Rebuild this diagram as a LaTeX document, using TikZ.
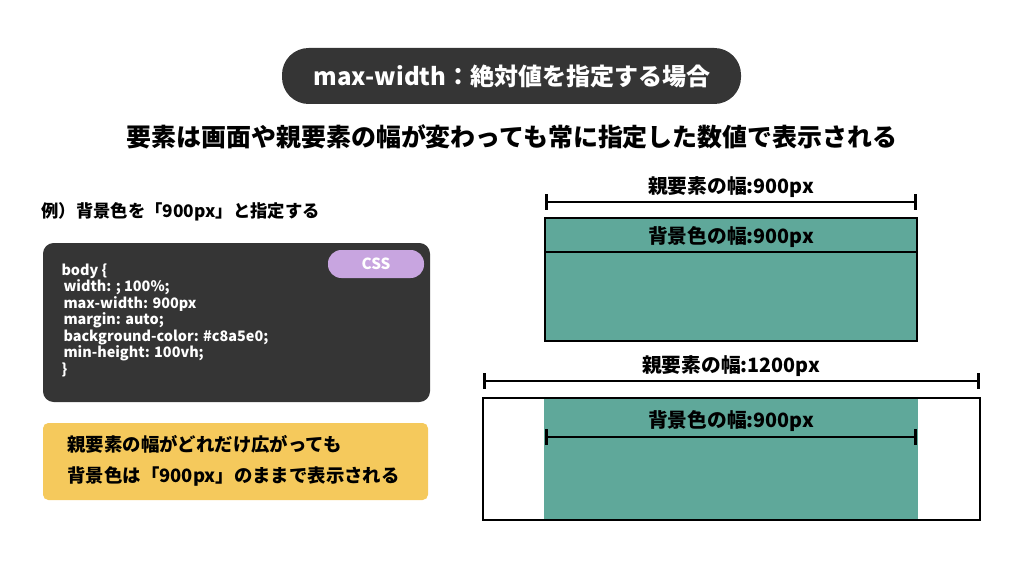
\documentclass[tikz,border=0pt]{standalone}
\usepackage{fontspec}
\setmainfont{Noto Sans CJK JP}
\definecolor{darkbg}{HTML}{353535}
\definecolor{cssviolet}{HTML}{C8A5E0}
\definecolor{noteyellow}{HTML}{F5C95C}
\definecolor{teal}{HTML}{5FA89A}
\tikzset{every picture/.style={line width=0.75pt}}
\tikzset{
  dimline/.style={line width=2pt, |-|},
  lbl/.style={inner sep=0.75pt, font=\bfseries\fontsize{14.8}{17}\selectfont},
  codeline/.style={anchor=west, inner sep=0.75pt, text=white, font=\bfseries\fontsize{10.8}{12}\selectfont}
}
\begin{document}
\begin{tikzpicture}[x=0.75pt,y=0.75pt,yscale=-1,xscale=1]
\useasboundingbox (0,0) rectangle (1024,574);

%Title pill
\fill[darkbg, rounded corners=20pt] (282,48) rectangle (741,104);
\draw (512,76) node [inner sep=0.75pt, text=white, font=\bfseries\fontsize{18}{21}\selectfont] (title) {max-width：絶対値を指定する場合};
% Subtitle
\draw (512,137) node [inner sep=0.75pt, font=\bfseries\fontsize{18.7}{21}\selectfont] (sub) {要素は画面や親要素の幅が変わっても常に指定した数値で表示される};
% Example label
\draw (40,212) node [anchor=west, inner sep=0.75pt, font=\bfseries\fontsize{13}{15}\selectfont] (ex) {例）背景色を「900px」と指定する};

%Code box
\fill[darkbg, rounded corners=8pt] (43,243) rectangle (430,402);
\fill[cssviolet, rounded corners=10pt] (328,250) rectangle (424,278);
\draw (376,264) node [inner sep=0.75pt, text=white, font=\bfseries\fontsize{11.5}{13}\selectfont] (css) {CSS};
\draw (60,271) node [codeline] (c1) {body \{};
\draw (62,287.5) node [codeline] (c2) {width: ; 100\%;};
\draw (62,304) node [codeline] (c3) {max-width: 900px};
\draw (62,320.5) node [codeline] (c4) {margin: auto;};
\draw (62,337) node [codeline] (c5) {background-color: \#c8a5e0;};
\draw (62,353.5) node [codeline] (c6) {min-height: 100vh;};
\draw (60,370) node [codeline] (c7) {\}};

%Note box
\fill[noteyellow, rounded corners=4pt] (43,423) rectangle (428,500);
\draw (66,444) node [anchor=west, lbl, font=\bfseries\fontsize{13.8}{16}\selectfont] (n1) {親要素の幅がどれだけ広がっても};
\draw (66,476) node [anchor=west, lbl, font=\bfseries\fontsize{13.8}{16}\selectfont] (n2) {背景色は「900px」のままで表示される};

%Top diagram
\draw (731,187) node [lbl] (p1) {親要素の幅:900px};
\draw[dimline] (545,202) -- (917,202);
\draw[fill=teal, line width=2pt] (545,218) rectangle (917,341);
\draw[line width=2pt] (545,252) -- (917,252);
\draw (731,237) node [lbl] (b1) {背景色の幅:900px};

%Bottom diagram
\draw (731,366) node [lbl] (p2) {親要素の幅:1200px};
\draw[dimline] (483,381) -- (980,381);
\fill[teal] (544,398) rectangle (918,520);
\draw[line width=2pt] (483,398) rectangle (980,520);
\draw (731,421) node [lbl] (b2) {背景色の幅:900px};
\draw[dimline] (545,437) -- (917,437);

\end{tikzpicture}
\end{document}
